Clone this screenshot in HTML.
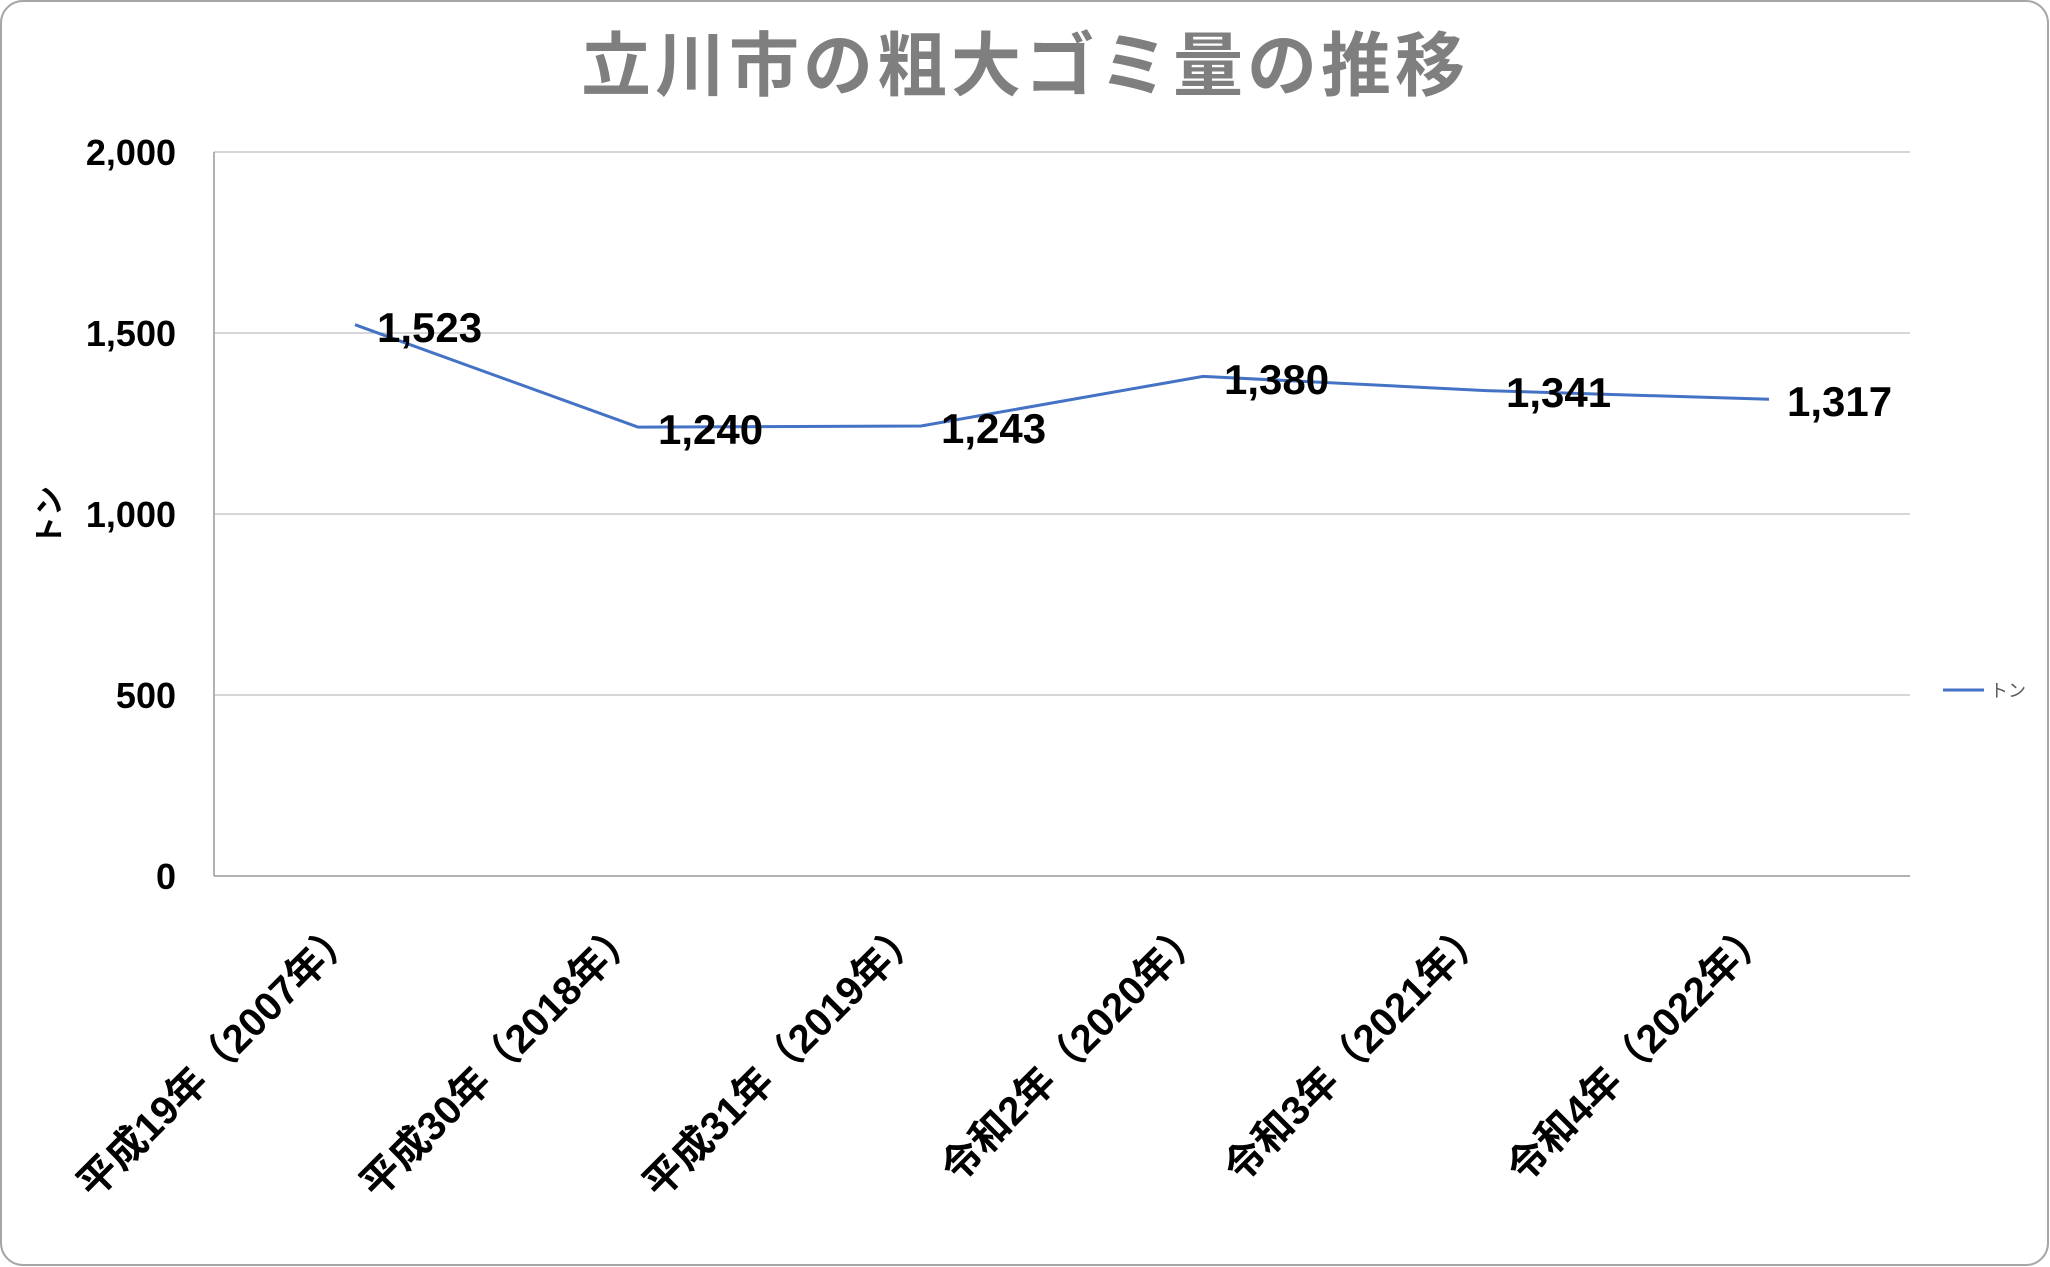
<!DOCTYPE html>
<html><head><meta charset="utf-8"><style>
html,body{margin:0;padding:0;background:#fff}
svg{display:block}
text{font-family:"Liberation Sans","Noto Sans CJK JP",sans-serif}
</style></head><body>
<svg width="2050" height="1267" viewBox="0 0 2050 1267" xmlns="http://www.w3.org/2000/svg">
<rect x="1" y="1" width="2047" height="1264" rx="22" fill="#fff" stroke="#a6a6a6" stroke-width="2"/>
<text x="1025" y="90" text-anchor="middle" font-size="70" font-weight="bold" fill="#7f7f7f" letter-spacing="4">立川市の粗大ゴミ量の推移</text>
<g stroke="#c8c8c8" stroke-width="1.5">
<line x1="214" y1="152" x2="1910" y2="152"/>
<line x1="214" y1="333" x2="1910" y2="333"/>
<line x1="214" y1="514" x2="1910" y2="514"/>
<line x1="214" y1="695" x2="1910" y2="695"/>
<line x1="214" y1="876" x2="1910" y2="876" stroke="#999"/>
<line x1="214" y1="152" x2="214" y2="876" stroke="#999"/>
</g>
<g font-size="36" font-weight="bold" text-anchor="end" fill="#000">
<text x="176" y="165">2,000</text>
<text x="176" y="346">1,500</text>
<text x="176" y="527">1,000</text>
<text x="176" y="708">500</text>
<text x="176" y="889">0</text>
</g>
<text transform="translate(60,516) rotate(-90)" font-size="30" font-weight="bold" text-anchor="middle">トン</text>
<polyline fill="none" stroke="#4472c4" stroke-width="3" points="355,324.7 638,427.1 921,426 1203,376.4 1486,390.6 1769,399.3"/>
<g font-size="42" font-weight="bold" fill="#000">
<text x="377" y="342">1,523</text>
<text x="658" y="444">1,240</text>
<text x="941" y="443">1,243</text>
<text x="1224" y="394">1,380</text>
<text x="1506" y="407">1,341</text>
<text x="1787" y="416">1,317</text>
</g>
<g font-size="40" font-weight="bold" text-anchor="end" fill="#000">
<text transform="translate(358,936) rotate(-45)">平成19年（2007年）</text>
<text transform="translate(641,936) rotate(-45)">平成30年（2018年）</text>
<text transform="translate(924,936) rotate(-45)">平成31年（2019年）</text>
<text transform="translate(1206,936) rotate(-45)">令和2年（2020年）</text>
<text transform="translate(1489,936) rotate(-45)">令和3年（2021年）</text>
<text transform="translate(1772,936) rotate(-45)">令和4年（2022年）</text>
</g>
<line x1="1943" y1="690" x2="1984" y2="690" stroke="#4472c4" stroke-width="3"/>
<text x="1990" y="697" font-size="18" fill="#595959">トン</text>
</svg>
</body></html>
